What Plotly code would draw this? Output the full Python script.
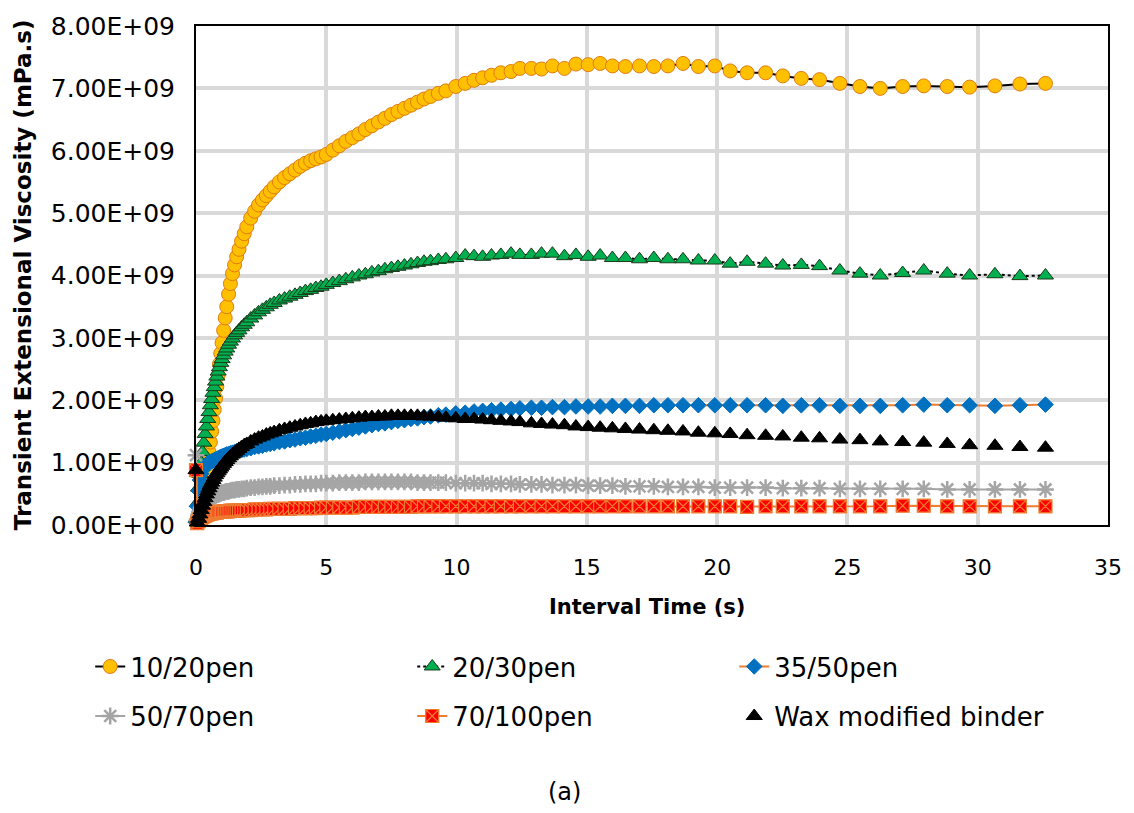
import plotly.graph_objects as go

# Interval time (s) shared by every binder series
TIME_S = [
    0, 0.05, 0.1, 0.15, 0.2, 0.25, 0.3, 0.35, 0.4, 0.45,
    0.5, 0.55, 0.6, 0.65, 0.7, 0.75, 0.8, 0.85, 0.9, 0.95,
    1.0, 1.06, 1.12, 1.18, 1.25, 1.32, 1.4, 1.48, 1.56, 1.65,
    1.75, 1.85, 1.95, 2.1, 2.25, 2.4, 2.55, 2.7, 2.85, 3.0,
    3.2, 3.4, 3.6, 3.8, 4.0, 4.2, 4.4, 4.6, 4.8, 5.0,
    5.25, 5.5, 5.75, 6.0, 6.25, 6.5, 6.75, 7.0, 7.25, 7.5,
    7.75, 8.0, 8.25, 8.5, 8.75, 9.0, 9.3, 9.59, 9.97, 10.33,
    10.67, 11.0, 11.34, 11.7, 12.09, 12.43, 12.87, 13.26, 13.68, 14.14,
    14.58, 15.05, 15.51, 15.98, 16.48, 17.02, 17.57, 18.11, 18.69, 19.28,
    19.91, 20.5, 21.15, 21.86, 22.52, 23.23, 23.93, 24.71, 25.48, 26.26,
    27.12, 27.93, 28.83, 29.69, 30.66, 31.62, 32.6,
]

# Transient extensional viscosity, in units of 1E+09 mPa.s
PEN_10_20 = [
    0.05, 0.1, 0.18, 0.28, 0.38, 0.5, 0.62, 0.75, 0.88, 1.02,
    1.17, 1.33, 1.5, 1.67, 1.85, 2.03, 2.22, 2.4, 2.58, 2.75,
    2.92, 3.12, 3.32, 3.5, 3.7, 3.87, 4.03, 4.17, 4.3, 4.42,
    4.55, 4.67, 4.78, 4.92, 5.03, 5.13, 5.21, 5.28, 5.35, 5.42,
    5.5, 5.57, 5.63, 5.69, 5.75, 5.8, 5.84, 5.87, 5.9, 5.94,
    6.01, 6.08, 6.15, 6.21, 6.27, 6.34, 6.4, 6.46, 6.52, 6.58,
    6.63, 6.68, 6.73, 6.78, 6.83, 6.87, 6.92, 6.96, 7.03, 7.08,
    7.13, 7.17, 7.21, 7.25, 7.27, 7.32, 7.32, 7.31, 7.36, 7.32,
    7.39, 7.38, 7.4, 7.36, 7.35, 7.36, 7.35, 7.36, 7.4, 7.35,
    7.36, 7.28, 7.25, 7.25, 7.2, 7.16, 7.14, 7.08, 7.03, 7.0,
    7.03, 7.04, 7.03, 7.02, 7.04, 7.07, 7.08,
]
PEN_20_30 = [
    0.1, 0.35, 0.6, 0.82, 1.0, 1.17, 1.32, 1.46, 1.58, 1.7,
    1.81, 1.92, 2.02, 2.12, 2.21, 2.3, 2.38, 2.46, 2.53, 2.6,
    2.66, 2.72, 2.78, 2.83, 2.89, 2.94, 2.99, 3.04, 3.08, 3.12,
    3.17, 3.21, 3.25, 3.31, 3.36, 3.41, 3.45, 3.49, 3.53, 3.56,
    3.6, 3.63, 3.66, 3.69, 3.72, 3.75, 3.77, 3.8, 3.82, 3.85,
    3.88, 3.91, 3.94, 3.97, 4.0, 4.02, 4.05, 4.07, 4.1, 4.12,
    4.14, 4.16, 4.18, 4.2, 4.22, 4.23, 4.25, 4.26, 4.28, 4.32,
    4.31, 4.3, 4.32, 4.33, 4.35, 4.33, 4.33, 4.35, 4.35, 4.31,
    4.33, 4.3, 4.32, 4.28, 4.28, 4.26, 4.28, 4.26, 4.26, 4.24,
    4.24, 4.19, 4.22, 4.19, 4.16, 4.17, 4.15, 4.08, 4.03, 4.0,
    4.04, 4.08, 4.03, 4.0, 4.02, 3.99, 4.0,
]
PEN_35_50 = [
    0.05, 0.3, 0.55, 0.72, 0.82, 0.88, 0.92, 0.95, 0.97, 0.99,
    1.0, 1.01, 1.02, 1.03, 1.04, 1.05, 1.06, 1.07, 1.08, 1.09,
    1.1, 1.11, 1.12, 1.13, 1.14, 1.15, 1.16, 1.17, 1.18, 1.19,
    1.2, 1.21, 1.22, 1.23, 1.25, 1.26, 1.27, 1.29, 1.3, 1.31,
    1.33, 1.34, 1.36, 1.37, 1.39, 1.4, 1.42, 1.43, 1.45, 1.46,
    1.48, 1.5, 1.52, 1.54, 1.56, 1.58, 1.6, 1.62, 1.63, 1.65,
    1.67, 1.68, 1.7, 1.71, 1.73, 1.74, 1.76, 1.77, 1.79, 1.8,
    1.82, 1.83, 1.84, 1.85, 1.86, 1.87, 1.88, 1.88, 1.89, 1.89,
    1.9, 1.9, 1.9, 1.91, 1.91, 1.91, 1.92, 1.92, 1.92, 1.92,
    1.92, 1.92, 1.92, 1.92, 1.91, 1.92, 1.92, 1.91, 1.91, 1.91,
    1.92, 1.93, 1.92, 1.92, 1.91, 1.92, 1.93,
]
PEN_50_70 = [
    1.12, 0.08, 0.16, 0.22, 0.27, 0.31, 0.34, 0.37, 0.39, 0.41,
    0.43, 0.44, 0.45, 0.46, 0.47, 0.48, 0.49, 0.5, 0.5, 0.51,
    0.52, 0.52, 0.53, 0.54, 0.54, 0.55, 0.56, 0.56, 0.57, 0.57,
    0.58, 0.58, 0.59, 0.6, 0.6, 0.61, 0.61, 0.62, 0.62, 0.63,
    0.63, 0.64, 0.64, 0.65, 0.65, 0.66, 0.66, 0.66, 0.67, 0.67,
    0.67, 0.68, 0.68, 0.68, 0.68, 0.69, 0.69, 0.69, 0.69, 0.69,
    0.69, 0.69, 0.69, 0.68, 0.68, 0.68, 0.68, 0.68, 0.67, 0.67,
    0.67, 0.67, 0.66, 0.66, 0.66, 0.65, 0.65, 0.65, 0.64, 0.64,
    0.64, 0.63, 0.63, 0.63, 0.62, 0.62, 0.62, 0.61, 0.61, 0.61,
    0.6, 0.6, 0.6, 0.6, 0.59, 0.59, 0.59, 0.58, 0.58, 0.58,
    0.58, 0.58, 0.57, 0.57, 0.57, 0.57, 0.57,
]
PEN_70_100 = [
    0.88, 0.03, 0.06, 0.09, 0.11, 0.13, 0.14, 0.15, 0.16, 0.17,
    0.18, 0.18, 0.19, 0.19, 0.2, 0.2, 0.2, 0.21, 0.21, 0.21,
    0.21, 0.22, 0.22, 0.22, 0.22, 0.23, 0.23, 0.23, 0.23, 0.23,
    0.24, 0.24, 0.24, 0.24, 0.25, 0.25, 0.25, 0.25, 0.26, 0.26,
    0.26, 0.26, 0.26, 0.27, 0.27, 0.27, 0.27, 0.27, 0.28, 0.28,
    0.28, 0.28, 0.28, 0.28, 0.29, 0.29, 0.29, 0.29, 0.29, 0.29,
    0.29, 0.29, 0.29, 0.3, 0.3, 0.3, 0.3, 0.3, 0.3, 0.3,
    0.3, 0.3, 0.3, 0.3, 0.3, 0.3, 0.3, 0.3, 0.3, 0.3,
    0.3, 0.3, 0.3, 0.3, 0.3, 0.3, 0.3, 0.3, 0.3, 0.3,
    0.3, 0.3, 0.29, 0.3, 0.3, 0.3, 0.3, 0.3, 0.3, 0.3,
    0.31, 0.31, 0.3, 0.3, 0.3, 0.3, 0.3,
]
WAX_MODIFIED = [
    0.88, 0.04, 0.1, 0.17, 0.24, 0.31, 0.37, 0.43, 0.49, 0.54,
    0.59, 0.64, 0.68, 0.72, 0.76, 0.8, 0.83, 0.86, 0.89, 0.92,
    0.95, 0.98, 1.01, 1.04, 1.07, 1.1, 1.13, 1.16, 1.19, 1.22,
    1.25, 1.28, 1.3, 1.34, 1.37, 1.4, 1.42, 1.45, 1.47, 1.49,
    1.52, 1.54, 1.56, 1.58, 1.6, 1.62, 1.63, 1.65, 1.66, 1.67,
    1.68, 1.69, 1.7, 1.71, 1.72, 1.73, 1.73, 1.74, 1.74, 1.75,
    1.75, 1.75, 1.75, 1.75, 1.74, 1.74, 1.73, 1.72, 1.71, 1.7,
    1.7, 1.69, 1.68, 1.67, 1.66, 1.65, 1.63, 1.62, 1.61, 1.6,
    1.58, 1.57, 1.56, 1.55, 1.54, 1.53, 1.52, 1.51, 1.5, 1.48,
    1.47, 1.46, 1.44, 1.43, 1.42, 1.4, 1.39, 1.37, 1.36, 1.34,
    1.33, 1.32, 1.3, 1.28, 1.27, 1.25, 1.24,
]

SERIES_NAMES = ["10/20pen", "20/30pen", "35/50pen",
                "50/70pen", "70/100pen", "Wax modified binder"]

Y_TICK_VALUES = [0, 1e9, 2e9, 3e9, 4e9, 5e9, 6e9, 7e9, 8e9]
Y_TICK_TEXT = ["0.00E+00", "1.00E+09", "2.00E+09", "3.00E+09", "4.00E+09",
               "5.00E+09", "6.00E+09", "7.00E+09", "8.00E+09"]

UNIT = 1e9
FONT = "DejaVu Sans"

styles = [
    dict(mode="lines+markers",
         line=dict(color="black", width=2),
         marker=dict(symbol="circle", size=14, color="#FFC000",
                     line=dict(color="#E07B10", width=1)),
         legend="legend"),
    dict(mode="lines+markers",
         line=dict(color="black", width=2, dash="dot"),
         marker=dict(symbol="triangle-up", size=14, color="#00B050",
                     line=dict(color="#1A3A1A", width=1)),
         legend="legend"),
    dict(mode="lines+markers",
         line=dict(color="#ED7D31", width=2),
         marker=dict(symbol="diamond", size=12, color="#0070C0",
                     line=dict(color="#0070C0", width=1)),
         legend="legend"),
    dict(mode="lines+markers",
         line=dict(color="#A5A5A5", width=2),
         marker=dict(symbol="asterisk-open", size=14, color="#A5A5A5",
                     line=dict(color="#A5A5A5", width=2.5)),
         legend="legend2"),
    dict(mode="lines+markers",
         line=dict(color="#ED7D31", width=2),
         marker=dict(symbol="square-x", size=13, color="#FF0000",
                     line=dict(color="#ED7D31", width=1.2)),
         legend="legend2"),
    dict(mode="markers",
         marker=dict(symbol="triangle-up", size=14, color="black",
                     line=dict(color="black", width=1)),
         legend="legend2"),
]

values = [PEN_10_20, PEN_20_30, PEN_35_50, PEN_50_70, PEN_70_100, WAX_MODIFIED]

fig = go.Figure()
for name, vals, style in zip(SERIES_NAMES, values, styles):
    fig.add_trace(go.Scatter(
        x=TIME_S,
        y=[v * UNIT for v in vals],
        name=name,
        cliponaxis=False,
        **style,
    ))

# Two single-row legends below the plot, three entries each
legend_common = dict(
    orientation="h", xref="paper", yref="paper",
    x=-0.116, xanchor="left", yanchor="middle",
    entrywidth=277, entrywidthmode="pixels",
    font=dict(family=FONT, size=26, color="black"),
    bgcolor="rgba(0,0,0,0)", borderwidth=0,
)

axis_common = dict(
    showgrid=True, gridcolor="#D9D9D9", gridwidth=3.5,
    showline=True, linecolor="black", linewidth=2, mirror=True,
    zeroline=False, ticks="",
)

fig.update_layout(
    width=1134, height=813,
    margin=dict(l=196, r=24, t=21, b=288),
    paper_bgcolor="white", plot_bgcolor="white",
    font=dict(family=FONT, color="black"),
    showlegend=True,
    xaxis=dict(range=[0, 35], tick0=0, dtick=5,
               tickfont=dict(family=FONT, size=22),
               ticklabelstandoff=22, **axis_common),
    yaxis=dict(range=[0, 8e9], tickvals=Y_TICK_VALUES, ticktext=Y_TICK_TEXT,
               tickfont=dict(family=FONT, size=25),
               ticklabelstandoff=14, **axis_common),
    legend=dict(y=-0.2837, **legend_common),
    legend2=dict(y=-0.383, **legend_common),
    annotations=[
        dict(text="<b>Transient Extensional Viscosity (mPa.s)</b>",
             xref="paper", yref="paper", x=-0.19, y=0.502,
             xanchor="center", yanchor="middle",
             textangle=-90, showarrow=False,
             font=dict(family=FONT, size=23, color="black")),
        dict(text="<b>Interval Time (s)</b>",
             xref="paper", yref="paper", x=0.4945, y=-0.165,
             xanchor="center", yanchor="middle",
             showarrow=False,
             font=dict(family=FONT, size=21, color="black")),
        dict(text="(a)",
             xref="paper", yref="paper", x=0.404, y=-0.536,
             xanchor="center", yanchor="middle",
             showarrow=False,
             font=dict(family=FONT, size=24, color="black")),
    ],
)

fig.write_html("out.html")
